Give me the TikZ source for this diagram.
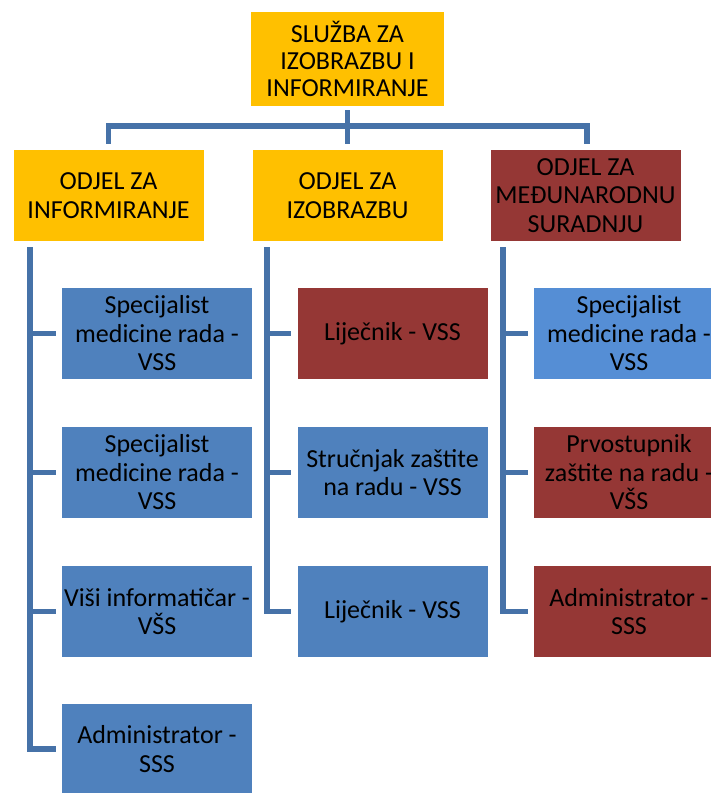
\documentclass[tikz,border=0pt]{standalone}
\usepackage{fontspec}
\setmainfont{Carlito}
\definecolor{ybox}{RGB}{255,192,0}
\definecolor{bbox}{RGB}{79,129,189}
\definecolor{lbbox}{RGB}{85,142,213}
\definecolor{rbox}{RGB}{149,55,53}
\definecolor{conncol}{RGB}{70,114,168}
\tikzset{
  box/.style={minimum width=190pt, minimum height=91pt, inner sep=0pt, align=center,
    font=\fontsize{26}{28.5}\selectfont, text=black},
  ybx/.style={box, fill=ybox},
  bbx/.style={box, fill=bbox},
  lbbx/.style={box, fill=lbbox},
  rbx/.style={box, fill=rbox},
  conn/.style={draw=conncol, line width=5.5pt, line join=miter}
}
\begin{document}
\begin{tikzpicture}[x=1pt,y=-1pt]
\useasboundingbox (0,0) rectangle (710,793);
% level 1
\node[ybx, minimum width=193pt, minimum height=94pt, font=\fontsize{26}{27}\selectfont] (top) at (347.5,59) {SLUŽBA ZA\\IZOBRAZBU I\\INFORMIRANJE};
% level 2
\node[ybx] (a) at (108.5,195.5) {ODJEL ZA\\INFORMIRANJE};
\node[ybx] (b) at (347.5,195.5) {ODJEL ZA\\IZOBRAZBU};
\node[rbx] (c) at (585.5,195.5) {ODJEL ZA\\MEĐUNARODNU\\SURADNJU};
% left column
\node[bbx] (a1) at (157,333.5) {Specijalist\\medicine rada -\\VSS};
\node[bbx] (a2) at (157,472.5) {Specijalist\\medicine rada -\\VSS};
\node[bbx] (a3) at (157,611.5) {Viši informatičar -\\VŠS};
\node[bbx] (a4) at (157,749) {Administrator -\\SSS};
% middle column
\node[rbx] (b1) at (392.5,333.5) {Liječnik - VSS};
\node[bbx] (b2) at (392.5,472.5) {Stručnjak zaštite\\na radu - VSS};
\node[bbx] (b3) at (392.5,611.5) {Liječnik - VSS};
% right column
\node[lbbx] (c1) at (629,333.5) {Specijalist\\medicine rada -\\VSS};
\node[rbx] (c2) at (629,472.5) {Prvostupnik\\zaštite na radu -\\VŠS};
\node[rbx] (c3) at (629,611.5) {Administrator -\\SSS};
% top connectors
\coordinate (bus) at (347.5,126);
\draw[conn, shorten <=4pt, shorten >=6pt] (top.south) -- (b.north);
\draw[conn, shorten >=6pt] (bus) -| (a.north);
\draw[conn, shorten >=6pt] (bus) -| ([xshift=1.5pt]c.north);
% column trunks
\coordinate (ta) at (30,247);
\coordinate (tb) at (267,247);
\coordinate (tc) at (503,247);
\foreach \n in {a1,a2,a3,a4} \draw[conn, shorten >=6pt] (ta) |- (\n.west);
\foreach \n in {b1,b2,b3} \draw[conn, shorten >=6pt] (tb) |- (\n.west);
\foreach \n in {c1,c2,c3} \draw[conn, shorten >=6pt] (tc) |- (\n.west);
\end{tikzpicture}
\end{document}
